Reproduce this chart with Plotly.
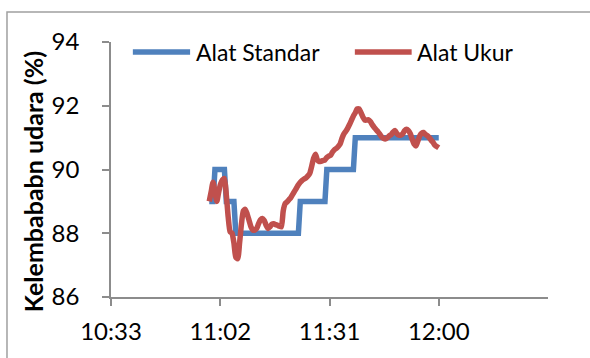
import pandas as pd
import plotly.graph_objects as go

# Sample times (30-second logging interval)
times = pd.date_range("2013-01-01 10:59:30", periods=122, freq="30s")

# Reference instrument readings (%)
alat_standar = [
    89, 89, 89, 90, 90, 90, 90, 90, 90, 89,
    89, 89, 89, 89, 88, 88, 88, 88, 88, 88,
    88, 88, 88, 88, 88, 88, 88, 88, 88, 88,
    88, 88, 88, 88, 88, 88, 88, 88, 88, 88,
    88, 88, 88, 88, 88, 88, 88, 88, 89, 89,
    89, 89, 89, 89, 89, 89, 89, 89, 89, 89,
    89, 89, 90, 90, 90, 90, 90, 90, 90, 90,
    90, 90, 90, 90, 90, 90, 90, 91, 91, 91,
    91, 91, 91, 91, 91, 91, 91, 91, 91, 91,
    91, 91, 91, 91, 91, 91, 91, 91, 91, 91,
    91, 91, 91, 91, 91, 91, 91, 91, 91, 91,
    91, 91, 91, 91, 91, 91, 91, 91, 91, 91,
    91, 91,
]

# Tested instrument readings (%)
alat_ukur = [
    89.00, 89.30, 89.60, 89.30, 89.00, 89.30, 89.55, 89.68, 89.72, 89.20,
    88.50, 88.05, 88.00, 87.70, 87.25, 87.20, 87.70, 88.30, 88.70, 88.75,
    88.60, 88.40, 88.20, 88.10, 88.10, 88.15, 88.30, 88.42, 88.46, 88.40,
    88.25, 88.15, 88.20, 88.28, 88.30, 88.27, 88.25, 88.22, 88.20, 88.70,
    88.93, 88.98, 89.05, 89.12, 89.22, 89.32, 89.42, 89.52, 89.60, 89.66,
    89.70, 89.74, 89.80, 89.88, 90.10, 90.35, 90.48, 90.30, 90.25, 90.26,
    90.28, 90.30, 90.38, 90.42, 90.45, 90.55, 90.62, 90.66, 90.72, 90.80,
    90.98, 91.12, 91.20, 91.30, 91.42, 91.55, 91.68, 91.78, 91.90, 91.90,
    91.78, 91.65, 91.55, 91.55, 91.56, 91.50, 91.40, 91.32, 91.25, 91.18,
    91.10, 91.02, 90.97, 90.96, 91.00, 91.06, 91.10, 91.18, 91.22, 91.12,
    91.08, 91.08, 91.12, 91.22, 91.26, 91.22, 91.12, 90.95, 90.80, 90.74,
    90.90, 91.06, 91.14, 91.16, 91.10, 91.06, 91.00, 90.92, 90.85, 90.76,
    90.72, 90.68,
]

x_tick_times = ["2013-01-01 10:33:36", "2013-01-01 11:02:24",
                "2013-01-01 11:31:12", "2013-01-01 12:00:00"]
x_tick_labels = ["10:33", "11:02", "11:31", "12:00"]
x_range = ["2013-01-01 10:33:36", "2013-01-01 12:28:48"]
y_ticks = [86, 88, 90, 92, 94]

series_names = ["Alat Standar", "Alat Ukur"]
BLUE = "#4F81BD"
RED = "#C0504D"
AXIS = "#8C8C8C"
FONT = "Lato"
TICK_SIZE = 24

fig = go.Figure()
fig.add_trace(go.Scatter(x=times, y=alat_standar, mode="lines", name=series_names[0],
                         line=dict(color=BLUE, width=5.5)))
fig.add_trace(go.Scatter(x=times, y=alat_ukur, mode="lines", name=series_names[1],
                         line=dict(color=RED, width=5.5, shape="spline", smoothing=0.6)))

# Hand-placed legend with long line samples
legend_items = [
    (series_names[0], BLUE, 0.050, 0.181, 0.190),
    (series_names[1], RED, 0.558, 0.688, 0.696),
]
shapes = []
annotations = []
for name, color, x0, x1, xt in legend_items:
    shapes.append(dict(type="line", xref="paper", yref="paper", x0=x0, x1=x1,
                       y0=0.961, y1=0.961, line=dict(color=color, width=5.5)))
    annotations.append(dict(text=name, xref="paper", yref="paper", x=xt, y=0.961,
                            xanchor="left", yanchor="middle", showarrow=False,
                            font=dict(family=FONT, size=23, color="black")))

# Chart-area border
shapes.append(dict(type="rect", xref="paper", yref="paper", x0=-0.238, x1=1.3,
                   y0=-0.6, y1=1.1176, line=dict(color="#A0A0A0", width=1.5),
                   fillcolor="rgba(0,0,0,0)", layer="below"))

annotations.append(dict(text="<b>Kelembababn udara (%)</b>", xref="paper", yref="paper",
                        x=-0.178, y=0.451, xanchor="center", yanchor="middle",
                        textangle=-90, showarrow=False,
                        font=dict(family=FONT, size=25, color="black")))

fig.update_layout(
    width=590, height=358, autosize=False,
    margin=dict(l=111, r=42, t=42, b=61),
    paper_bgcolor="white", plot_bgcolor="white",
    showlegend=False,
    shapes=shapes, annotations=annotations,
    font=dict(family=FONT, size=TICK_SIZE, color="black"),
)
fig.update_xaxes(
    type="date", range=x_range, tickvals=x_tick_times, ticktext=x_tick_labels,
    showgrid=False, zeroline=False, showline=True, linecolor=AXIS, linewidth=1.5,
    ticks="outside", ticklen=7, tickcolor=AXIS, tickwidth=1.5,
    ticklabelstandoff=5,
    tickfont=dict(family=FONT, size=TICK_SIZE, color="black"),
)
fig.update_yaxes(
    range=[86, 94], tickvals=y_ticks,
    showgrid=False, zeroline=False, showline=True, linecolor=AXIS, linewidth=1.5,
    ticks="outside", ticklen=7, tickcolor=AXIS, tickwidth=1.5,
    ticklabelstandoff=18,
    tickfont=dict(family=FONT, size=TICK_SIZE, color="black"),
)

fig.write_html("out.html")
